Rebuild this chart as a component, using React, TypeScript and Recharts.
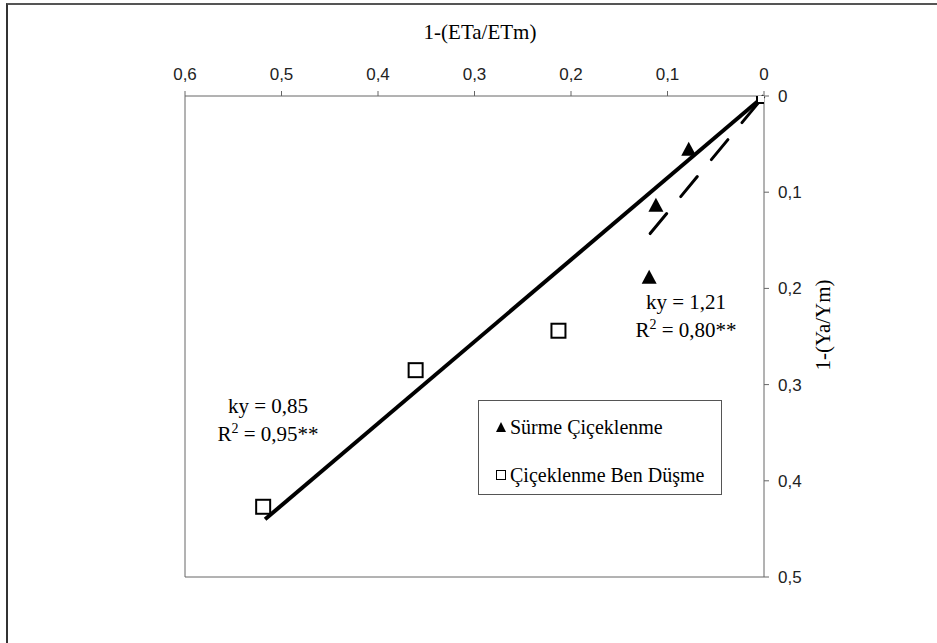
import React from "react";
import {
  ScatterChart,
  Scatter,
  XAxis,
  YAxis,
  ReferenceLine,
  Legend,
} from "recharts";

// 1-(ETa/ETm) vs 1-(Ya/Ym)
const surmeX = [0.078, 0.112, 0.119];
const surmeY = [0.057, 0.115, 0.19];
const benX = [0, 0.213, 0.361, 0.519];
const benY = [0, 0.244, 0.285, 0.427];

const xTicks = [0, 0.1, 0.2, 0.3, 0.4, 0.5, 0.6];
const yTicks = [0, 0.1, 0.2, 0.3, 0.4, 0.5];

// fitted lines (through origin)
const fitBen = [
  { x: 0, y: 0 },
  { x: 0.517, y: 0.44 },
];
const fitSurme = [
  { x: 0.118, y: 0.143 },
  { x: 0, y: 0 },
];

const surmeData = surmeX.map((x, i) => ({ x, y: surmeY[i] }));
const benData = benX.map((x, i) => ({ x, y: benY[i] }));

const SERIF = "'Liberation Serif', 'Times New Roman', serif";
const SANS = "'Liberation Sans', Arial, sans-serif";
const AXIS = "#666";

const fmt = (v: number) => String(v).replace(".", ",");

const Triangle = (props: any) => {
  const { cx, cy } = props;
  return (
    <path
      d={`M${cx},${cy - 9} L${cx + 7.5},${cy + 5} L${cx - 7.5},${cy + 5} Z`}
      fill="#000"
    />
  );
};

const Square = (props: any) => {
  const { cx, cy } = props;
  return (
    <rect x={cx - 7} y={cy - 7} width={14} height={14} fill="#fff" stroke="#000" strokeWidth={2} />
  );
};

function LegendBox() {
  return (
    <div
      style={{
        border: "1.5px solid #555",
        width: 244,
        height: 95,
        boxSizing: "border-box",
        fontFamily: SERIF,
        fontSize: 20,
        color: "#000",
        background: "#fff",
        padding: "14px 0 0 16px",
      }}
    >
      <div style={{ display: "flex", alignItems: "center", height: 24 }}>
        <svg width={12} height={12} style={{ marginRight: 3 }}>
          <path d="M6,1 L11,11 L1,11 Z" fill="#000" />
        </svg>
        Sürme Çiçeklenme
      </div>
      <div style={{ display: "flex", alignItems: "center", height: 24, marginTop: 24 }}>
        <svg width={12} height={12} style={{ marginRight: 3 }}>
          <rect x={1.5} y={1.5} width={9} height={9} fill="#fff" stroke="#000" strokeWidth={1} />
        </svg>
        Çiçeklenme Ben Düşme
      </div>
    </div>
  );
}

const note = (cx: number, cy: number, ky: string, r2: string) => (
  <div
    style={{
      position: "absolute",
      left: cx - 80,
      top: cy - 14,
      width: 160,
      textAlign: "center",
      fontFamily: SERIF,
      fontSize: 21,
      lineHeight: "28px",
      color: "#000",
    }}
  >
    <div>ky = {ky}</div>
    <div>
      R<sup style={{ fontSize: 14, lineHeight: 0 }}>2</sup> = {r2}
    </div>
  </div>
);

export default function App() {
  return (
    <div
      style={{
        position: "absolute",
        left: 0,
        top: 0,
        width: 937,
        height: 643,
        overflow: "hidden",
        background: "#fff",
      }}
    >
      <div
        style={{
          position: "absolute",
          left: 6,
          top: 3,
          width: 1200,
          height: 1200,
          borderLeft: "2px solid #333",
          borderTop: "2px solid #555",
        }}
      />
      <div style={{ position: "absolute", left: 0, top: 0 }}>
        <ScatterChart
          width={937}
          height={643}
          margin={{ top: 56, right: 113, bottom: 66, left: 185 }}
        >
          <XAxis
            type="number"
            dataKey="x"
            orientation="top"
            reversed
            domain={[0, 0.6]}
            ticks={xTicks}
            tickFormatter={fmt}
            height={40}
            tickSize={5}
            tickMargin={11}
            axisLine={{ stroke: AXIS }}
            tickLine={{ stroke: AXIS }}
            tick={{ fill: "#222", fontSize: 17, fontFamily: SANS }}
            allowDataOverflow
          />
          <YAxis
            type="number"
            dataKey="y"
            orientation="right"
            reversed
            domain={[0, 0.5]}
            ticks={yTicks}
            tickFormatter={fmt}
            width={60}
            tickSize={5}
            tickMargin={9}
            axisLine={{ stroke: AXIS }}
            tickLine={{ stroke: AXIS }}
            tick={{ fill: "#222", fontSize: 17, fontFamily: SANS }}
            allowDataOverflow
          />
          <ReferenceLine x={0.6} stroke={AXIS} ifOverflow="visible" />
          <ReferenceLine y={0.5} stroke={AXIS} ifOverflow="visible" />
          <ReferenceLine
            segment={fitSurme}
            stroke="#000"
            strokeWidth={3}
            strokeDasharray="26 22"
            strokeLinecap="round"
            ifOverflow="visible"
          />
          <ReferenceLine
            segment={fitBen}
            stroke="#000"
            strokeWidth={4}
            ifOverflow="visible"
          />
          <Scatter
            name="Sürme Çiçeklenme"
            data={surmeData}
            shape={Triangle}
            isAnimationActive={false}
          />
          <Scatter
            name="Çiçeklenme Ben Düşme"
            data={benData}
            shape={Square}
            isAnimationActive={false}
          />
          <Legend
            layout="horizontal"
            verticalAlign="middle"
            align="center"
            wrapperStyle={{ left: 478, top: 400, width: 244, height: 95 }}
            content={() => <LegendBox />}
          />
        </ScatterChart>
      </div>
      <div
        style={{
          position: "absolute",
          left: 380,
          top: 19,
          width: 200,
          textAlign: "center",
          fontFamily: SERIF,
          fontSize: 21,
          lineHeight: "26px",
          color: "#000",
        }}
      >
        1-(ETa/ETm)
      </div>
      <div
        style={{
          position: "absolute",
          left: 823 - 60,
          top: 325 - 13,
          width: 120,
          textAlign: "center",
          fontFamily: SERIF,
          fontSize: 21,
          lineHeight: "26px",
          color: "#000",
          transform: "rotate(-90deg)",
        }}
      >
        1-(Ya/Ym)
      </div>
      {note(686, 302, "1,21", "0,80**")}
      {note(268, 406, "0,85", "0,95**")}
    </div>
  );
}
